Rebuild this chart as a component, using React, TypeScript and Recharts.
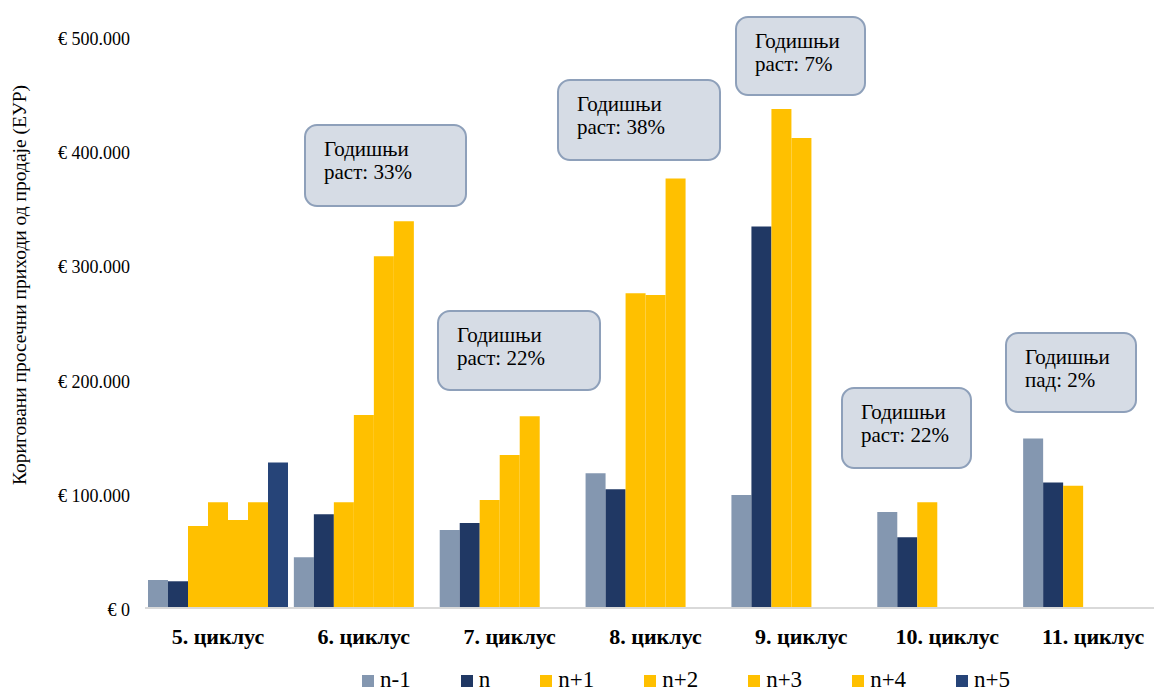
import { BarChart, Bar, XAxis, YAxis } from "recharts";

// categories and series values (EUR)
const categories = ['5. циклус', '6. циклус', '7. циклус', '8. циклус', '9. циклус', '10. циклус', '11. циклус'];
const nMinus1 = [24500, 44400, 68200, 118000, 99000, 84000, 148500];
const n0 = [23400, 82200, 74400, 104000, 334000, 62000, 110000];
const nPlus1 = [71700, 92700, 94500, 275600, 437000, 92700, 107000];
const nPlus2 = [92700, 169000, 134000, 274000, 411500, null, null];
const nPlus3 = [77000, 308000, 168000, 376000, null, null, null];
const nPlus4 = [92700, 338600, null, null, null, null, null];
const nPlus5 = [127500, null, null, null, null, null, null];
const yTicks = [0, 100000, 200000, 300000, 400000, 500000];

// annual growth notes per cycle
const growthNotes = [null, 'раст: 33%', 'раст: 22%', 'раст: 38%', 'раст: 7%', 'раст: 22%', 'пад: 2%'];

const SERIES = [
  { key: 'n-1', values: nMinus1, color: '#8497b0' },
  { key: 'n', values: n0, color: '#203864' },
  { key: 'n+1', values: nPlus1, color: '#ffc000' },
  { key: 'n+2', values: nPlus2, color: '#ffc000' },
  { key: 'n+3', values: nPlus3, color: '#ffc000' },
  { key: 'n+4', values: nPlus4, color: '#ffc000' },
  { key: 'n+5', values: nPlus5, color: '#264478' },
];

// callout box placement (px, page coords), same order as growthNotes
const CALLOUT_BOXES = [
  null,
  { left: 304, top: 124, width: 163, height: 83 },
  { left: 437, top: 310, width: 164, height: 81 },
  { left: 557, top: 79, width: 164, height: 82 },
  { left: 735, top: 16, width: 131, height: 80 },
  { left: 841, top: 387, width: 131, height: 82 },
  { left: 1005, top: 332, width: 132, height: 81 },
];

const FONT = "'Liberation Serif', 'Times New Roman', 'DejaVu Serif', serif";

const data = categories.map((name, i) => {
  const row: any = { name };
  SERIES.forEach(s => { row[s.key] = s.values[i]; });
  return row;
});

const fmtEuro = (v: number) => '€ ' + String(v).replace(/\B(?=(\d{3})+(?!\d))/g, '.');

const YTick = (props: any) => (
  <text x={130} y={props.y} dy={8} textAnchor="end" fontSize={18} style={{ fontFamily: FONT }} fill="#000">
    {fmtEuro(props.payload.value)}
  </text>
);

const XTick = (props: any) => (
  <text x={props.x} y={608 + 36} textAnchor="middle" fontSize={22} fontWeight="bold" style={{ fontFamily: FONT }} fill="#000">
    {props.payload.value}
  </text>
);

export default function App() {
  return (
    <div style={{ position: 'absolute', left: 0, top: 0, width: 1154, height: 693, overflow: 'hidden', background: '#fff', fontFamily: FONT }}>
      <BarChart
        width={1170}
        height={693}
        data={data}
        margin={{ top: 37, right: 4, bottom: 45, left: 0 }}
        barCategoryGap={3}
        barGap={0}
      >
        <XAxis
          dataKey="name"
          height={40}
          tickSize={0}
          tickMargin={0}
          axisLine={{ stroke: '#d9d9d9', strokeWidth: 2 }}
          tickLine={false}
          tick={<XTick />}
          interval={0}
        />
        <YAxis
          width={145}
          domain={[0, 500000]}
          ticks={yTicks}
          axisLine={false}
          tickLine={false}
          tick={<YTick />}
          label={{
            content: () => (
              <text transform="rotate(-90, 26, 285)" x={26} y={285} textAnchor="middle" fontSize={19.5} style={{ fontFamily: FONT }} fill="#000">
                Кориговани просечни приходи од продаје (ЕУР)
              </text>
            ),
          }}
        />
        {SERIES.map(s => (
          <Bar key={s.key} dataKey={s.key} fill={s.color} isAnimationActive={false} />
        ))}
      </BarChart>

      {growthNotes.map((note, i) => {
        const box = CALLOUT_BOXES[i];
        if (!note || !box) return null;
        return (
          <div
            key={i}
            style={{
              position: 'absolute',
              left: box.left,
              top: box.top,
              width: box.width,
              height: box.height,
              boxSizing: 'border-box',
              background: '#d6dce5',
              border: '2px solid #8ea0ba',
              borderRadius: 13,
              padding: '12px 0 0 18px',
              fontSize: 21,
              lineHeight: '23px',
              color: '#000',
            }}
          >
            <div>Годишњи</div>
            <div>{note}</div>
          </div>
        );
      })}

      <div style={{ position: 'absolute', left: 362, top: 668, display: 'flex', alignItems: 'center', gap: 50, fontSize: 23, lineHeight: '23px' }}>
        {SERIES.map(s => (
          <div key={s.key} style={{ display: 'flex', alignItems: 'center' }}>
            <span style={{ display: 'inline-block', width: 12, height: 12, background: s.color, marginRight: 6, marginTop: 2 }} />
            <span>{s.key}</span>
          </div>
        ))}
      </div>
    </div>
  );
}
